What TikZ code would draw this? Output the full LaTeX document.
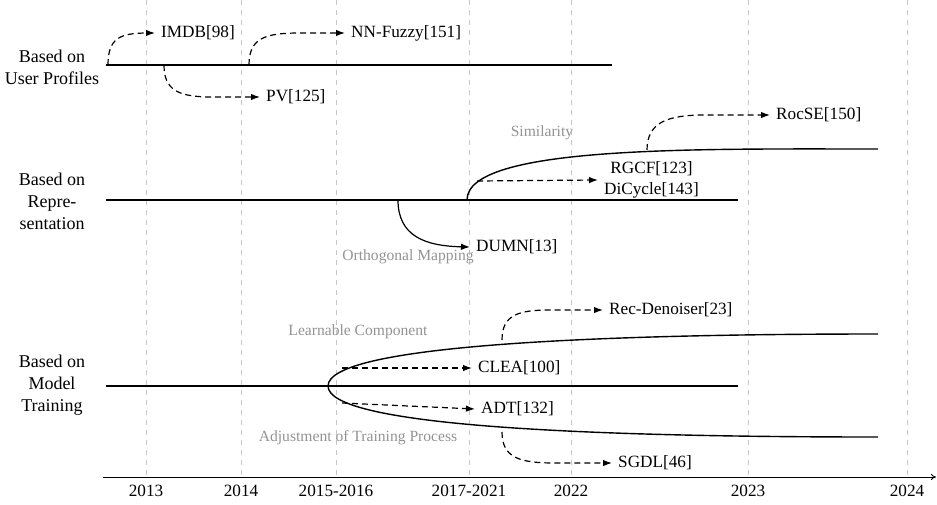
\documentclass[tikz,border=0pt]{standalone}
\usepackage{fontspec}
\setmainfont{Liberation Serif}
\usetikzlibrary{arrows.meta}
\begin{document}
\begin{tikzpicture}[x=1pt,y=-1pt,
  gridline/.style={gray!45, line width=0.7pt, dash pattern=on 5pt off 5pt},
  track/.style={line width=1.4pt},
  conn/.style={line width=1.2pt, dash pattern=on 6pt off 4pt, -{Latex[length=9pt,width=6.5pt]}},
  solidconn/.style={line width=1.2pt, -{Latex[length=9pt,width=6.5pt]}},
  lbl/.style={font=\fontsize{17.2}{21}\selectfont, inner sep=0pt},
  tgt/.style={lbl, anchor=west, inner xsep=6pt, inner ysep=2pt},
  cat/.style={font=\fontsize{18}{22}\selectfont, inner sep=0pt, align=center},
  note/.style={font=\fontsize{15.6}{18}\selectfont, text=gray!85, inner sep=0pt}]
\useasboundingbox (0,0) rectangle (937,504);

% grid lines
\foreach \x in {146,241,336,469,571,748,907}
  \draw[gridline] (\x,0) -- (\x,477);

% axis
\coordinate (axs) at (103,477);
\coordinate (axe) at (936,477);
\draw[line width=0.8pt, -{To[length=5pt,width=6pt]}] (axs) -- (axe);
\foreach \x/\t [count=\i] in {146/2013,241/2014,336/2015-2016,469/2017-2021,571/2022,748/2023,907/2024}
  \node[lbl] (y\i) at (\x,491) {\t};

% category labels
\node[cat] (catA) at (52,67) {Based on\\User Profiles};
\node[cat] (catB) at (52,201) {Based on\\Repre-\\sentation};
\node[cat] (catC) at (52,385) {Based on\\Model\\Training};

% ---------- User profiles ----------
\coordinate (a0) at (106,65);
\coordinate (a1) at (612,65);
\draw[track] (a0) -- (a1);
\node[tgt] (imdb) at (155,33) {IMDB[98]};
\node[tgt] (nnf) at (345,33) {NN-Fuzzy[151]};
\node[tgt] (pv) at (260,97) {PV[125]};
\coordinate (sA1) at (108,65);
\coordinate (sA2) at (249,65);
\coordinate (sA3) at (164,65);
\draw[conn] (sA1) .. controls (108,38) and (120,33) .. (148,33) -- (imdb.west);
\draw[conn] (sA2) .. controls (249,38) and (265,33) .. (300,33) -- (nnf.west);
\draw[conn] (sA3) .. controls (164,90) and (178,97) .. (212,97) -- (pv.west);

% ---------- Representation ----------
\coordinate (b0) at (106,200);
\coordinate (b1) at (738,200);
\draw[track] (b0) -- (b1);
\coordinate (simS) at (467,200);
\coordinate (simE) at (878,149);
\draw[track] (simS) .. controls (467,145) and (700,149) .. (simE);
\node[note] (simL) at (542,133) {Similarity};
\node[tgt, align=center] (rgcf) at (598,180) {RGCF[123]\\DiCycle[143]};
\coordinate (sB1) at (477,181);
\draw[conn] (sB1) -- (rgcf.west);
\node[tgt] (roc) at (770,115) {RocSE[150]};
\coordinate (sB2) at (647,150);
\draw[conn] (sB2) .. controls (647,122) and (668,115) .. (705,115) -- (roc.west);
\coordinate (sB3) at (398,200);
\node[tgt] (dumn) at (470,247) {DUMN[13]};
\draw[solidconn] (sB3) .. controls (398,236) and (425,246) .. (dumn.west);
\node[note] (orthL) at (408,257) {Orthogonal Mapping};

% ---------- Model training ----------
\coordinate (c0) at (106,386);
\coordinate (c1) at (738,386);
\draw[track] (c0) -- (c1);
\coordinate (vtx) at (328,386);
\coordinate (upE) at (878,334);
\coordinate (loE) at (878,437);
\draw[track] (vtx) .. controls (328,345) and (600,334) .. (upE);
\draw[track] (vtx) .. controls (328,427) and (600,437) .. (loE);
\node[note] (learnL) at (358,332) {Learnable Component};
\node[note] (adjL) at (358,438) {Adjustment of Training Process};
\node[tgt] (clea) at (472,368) {CLEA[100]};
\node[tgt] (adt) at (475,409) {ADT[132]};
\node[tgt] (recd) at (603,310) {Rec-Denoiser[23]};
\node[tgt] (sgdl) at (612,463) {SGDL[46]};
\coordinate (sC1) at (342,368);
\coordinate (sC2) at (342,403);
\coordinate (sC3) at (502,340);
\coordinate (sC4) at (502,432);
\draw[conn] (sC1) -- (clea.west);
\draw[conn] (sC2) -- (adt.west);
\draw[conn] (sC3) .. controls (502,315) and (518,310) .. (550,310) -- (recd.west);
\draw[conn] (sC4) .. controls (502,458) and (520,463) .. (555,463) -- (sgdl.west);
\end{tikzpicture}
\end{document}
